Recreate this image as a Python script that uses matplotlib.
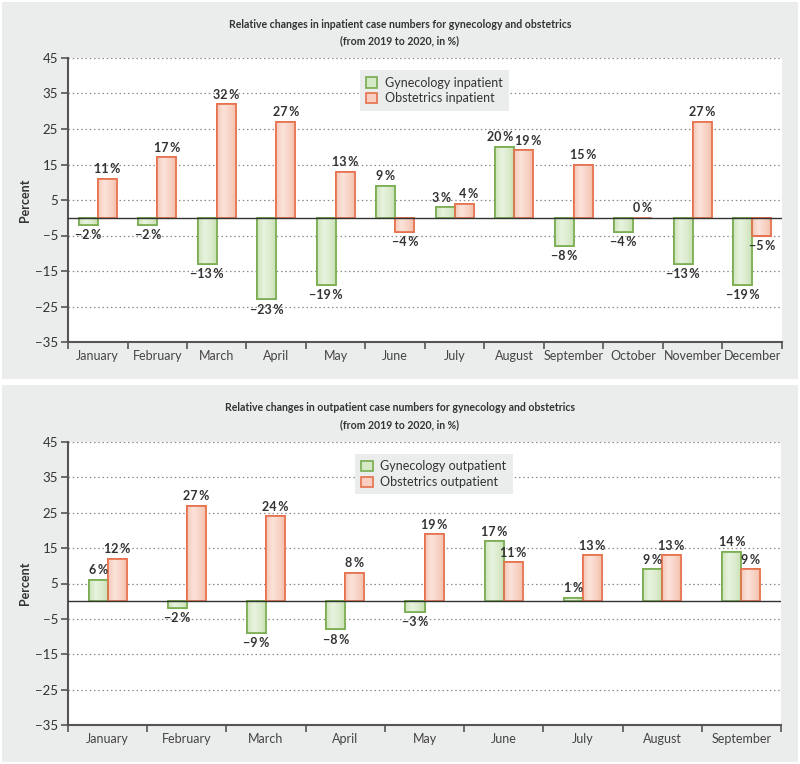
import matplotlib
matplotlib.use("Agg")
import matplotlib.pyplot as plt
import numpy as np
from matplotlib.patches import Rectangle
from matplotlib.colors import LinearSegmentedColormap

plt.rcParams['font.family'] = ['Lato', 'DejaVu Sans']

# ---- data ----
months_in = ["January", "February", "March", "April", "May", "June", "July",
             "August", "September", "October", "November", "December"]
gyn_in = [-2, -2, -13, -23, -19, 9, 3, 20, -8, -4, -13, -19]
obs_in = [11, 17, 32, 27, 13, -4, 4, 19, 15, 0, 27, -5]

months_out = ["January", "February", "March", "April", "May", "June", "July",
              "August", "September"]
gyn_out = [6, -2, -9, -8, -3, 17, 1, 9, 14]
obs_out = [12, 27, 24, 8, 19, 11, 13, 13, 9]

yticks = [45, 35, 25, 15, 5, -5, -15, -25, -35]

title_in = "Relative changes in inpatient case numbers for gynecology and obstetrics\n(from 2019 to 2020, in %)"
title_out = "Relative changes in outpatient case numbers for gynecology and obstetrics\n(from 2019 to 2020, in %)"
leg_in = ["Gynecology inpatient", "Obstetrics inpatient"]
leg_out = ["Gynecology outpatient", "Obstetrics outpatient"]

# ---- styles ----
GRAY_BG = '#ebecec'
G_FILL, G_EDGE = '#d6e9c6', '#78ab4e'
O_FILL, O_EDGE = '#f8cfc0', '#e6704c'
G_CMAP = LinearSegmentedColormap.from_list('g', ['#cfe5bc', '#e8f3df', '#dcecce', '#c6e0b0'])
O_CMAP = LinearSegmentedColormap.from_list('o', ['#f6c9b8', '#fbe3da', '#f8d3c5', '#f3bda8'])
TXT = '#333333'
AX = '#555555'

W, H = 800, 764
fig = plt.figure(figsize=(W / 100, H / 100), dpi=100)
fig.patch.set_facecolor('white')

def px(x0, y0, x1, y1):
    return [x0 / W, 1 - y1 / H, (x1 - x0) / W, (y1 - y0) / H]

# gray panels
for (y0, y1) in [(2, 379), (385, 762)]:
    fig.patches.append(Rectangle((2 / W, 1 - y1 / H), 796 / W, (y1 - y0) / H,
                                 transform=fig.transFigure, facecolor=GRAY_BG,
                                 edgecolor='none', zorder=-5))

def fmt(v):
    s = ("\u2212" if v < 0 else "") + str(abs(v))
    return s + "\u2009%"

grad = np.linspace(0, 1, 64).reshape(1, -1)

def panel(rect, cats, g, o, barw, title, title_y, leg, leg_anchor):
    ax = fig.add_axes(rect)
    ax.set_facecolor('white')
    n = len(cats)
    x = np.arange(n)
    bg = ax.bar(x - barw / 2, g, width=barw, color=G_FILL, edgecolor=G_EDGE,
                linewidth=1.2, zorder=3, label=leg[0])
    bo = ax.bar(x + barw / 2, o, width=barw, color=O_FILL, edgecolor=O_EDGE,
                linewidth=1.2, zorder=3, label=leg[1])
    # gradient fill inside bars, edge redrawn on top
    for bars, cmap, ec in [(bg, G_CMAP, G_EDGE), (bo, O_CMAP, O_EDGE)]:
        for b in bars:
            bx, by, bw, bh = b.get_x(), b.get_y(), b.get_width(), b.get_height()
            if bh == 0:
                continue
            y0, y1 = sorted([by, by + bh])
            im = ax.imshow(grad, extent=[bx, bx + bw, y0, y1], aspect='auto',
                           cmap=cmap, zorder=3.2, interpolation='bilinear')
            im.set_clip_path(b)
            ax.add_patch(Rectangle((bx, by), bw, bh, facecolor='none', edgecolor=ec,
                                   linewidth=1.2, zorder=3.4))
    for k, (bars, vals, others) in enumerate([(bg, g, o), (bo, o, g)]):
        for b, v, w in zip(bars, vals, others):
            cx = b.get_x() + b.get_width() / 2
            # nudge apart labels of neighbouring bars with nearly equal values
            dx = 0
            if (v >= 0) == (w >= 0) and abs(v - w) <= 1:
                dx = -3 if k == 0 else 3
            if v >= 0:
                ax.annotate(fmt(v), (cx, v), xytext=(dx, 2.5), textcoords='offset points',
                            ha='center', va='bottom', fontsize=9, fontweight='bold',
                            color=TXT, zorder=5)
            else:
                ax.annotate(fmt(v), (cx, v), xytext=(dx, -3), textcoords='offset points',
                            ha='center', va='top', fontsize=9, fontweight='bold',
                            color=TXT, zorder=5)
    ax.set_xlim(-0.5, n - 0.5)
    ax.set_ylim(-35, 45)
    ax.set_yticks(yticks)
    ax.set_yticklabels([("\u2212" if t < 0 else "") + str(abs(t)) for t in yticks],
                       fontsize=9.5, color=TXT)
    for t in yticks:
        if t not in (-35,):
            ax.axhline(t, color='#8a8a8a', linestyle=(0, (1.2, 2.2)), linewidth=0.9, zorder=1)
    ax.axhline(0, color='#333333', linewidth=1.0, zorder=4)
    # x ticks at category boundaries, labels at centers
    ax.set_xticks(np.arange(n + 1) - 0.5)
    ax.set_xticklabels([])
    ax.set_xticks(x, minor=True)
    ax.set_xticklabels(cats, minor=True, fontsize=9, color='#444444')
    ax.tick_params(axis='x', which='major', direction='out', length=5, width=1.2, color=AX)
    ax.tick_params(axis='x', which='minor', length=0, pad=6)
    ax.tick_params(axis='y', direction='out', length=5, width=1.2, color=AX, pad=2)
    for s in ['top', 'right']:
        ax.spines[s].set_visible(False)
    for s in ['left', 'bottom']:
        ax.spines[s].set_color(AX)
        ax.spines[s].set_linewidth(1.5)
    ax.set_ylabel("Percent", fontsize=9, fontweight='bold', color=TXT, labelpad=3)
    fig.text(0.5, title_y, title, ha='center', va='center', fontsize=7.6,
             fontweight='bold', color=TXT, linespacing=1.6)
    lg = ax.legend(loc='upper left', bbox_to_anchor=leg_anchor, frameon=True,
                   fancybox=False, facecolor=GRAY_BG, edgecolor='none', framealpha=1,
                   fontsize=9, handlelength=0.9, handleheight=0.9, handletextpad=0.6,
                   borderpad=0.5, labelspacing=0.3)
    lg.set_zorder(6)
    for t in lg.get_texts():
        t.set_color(TXT)
    return ax

panel(px(68, 58, 782, 342), months_in, gyn_in, obs_in, 0.32, title_in,
      1 - 32.5 / H, leg_in, (0.40, 0.978))
panel(px(68, 442, 781, 725), months_out, gyn_out, obs_out, 0.24, title_out,
      1 - 416 / H, leg_out, (0.394, 0.979))

fig.savefig("out.png", dpi=100, facecolor=fig.get_facecolor())
